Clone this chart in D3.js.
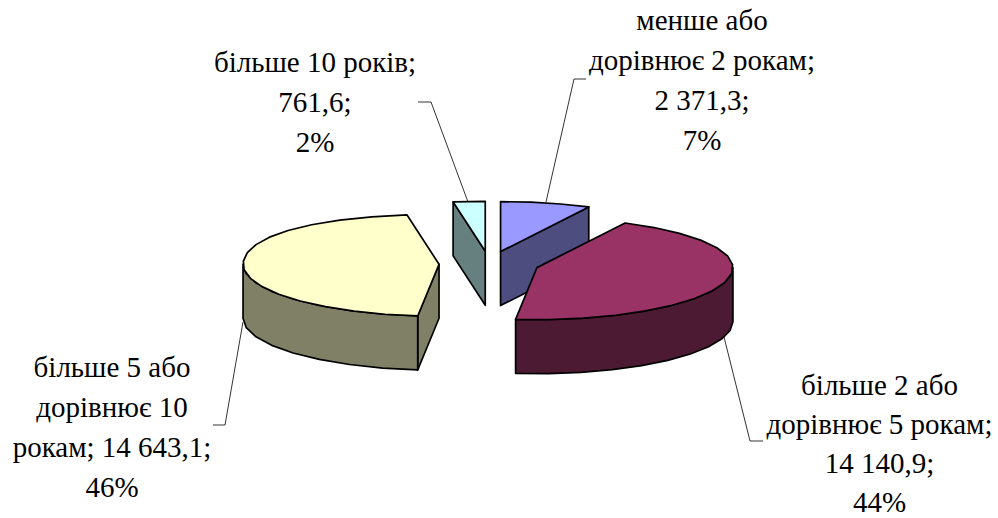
<!DOCTYPE html>
<html><head><meta charset="utf-8">
<script src="https://cdn.jsdelivr.net/npm/d3@7"></script>
<style>html,body{margin:0;padding:0;background:#fff}svg{display:block}</style>
</head><body><svg id="c" width="998" height="518"></svg>
<script>
const categories = ["менше або дорівнює 2 рокам","більше 2 або дорівнює 5 рокам","більше 5 або дорівнює 10 рокам","більше 10 років"];
const values = [2371.3,14140.9,14643.1,761.6];
const topColors = ["#9999FF","#993366","#FFFFCC","#CCFFFF"];
const sideColors = ["#4D4D80","#4D1A33","#808066","#668080"];
const lineWordCounts = [[2,3,2,1],[3,3,2,1],[3,2,3,1],[3,1,1]];

const W=998,H=518,cx=489,cy=264,rx=196,ryBack=50,ryFront=52,depth=54,explode=0.25;
const labelPos=[{x:702,y:30,gap:40},{x:879.5,y:395,gap:38.9},{x:112,y:377,gap:40},{x:315,y:72,gap:40}];
const leaders=[[[546,202],[574,79],[586,79]],[[724,337],[750,441],[763,441]],[[243,322],[225,425],[213,425]],[[468,202],[431,102],[418,102]]];

const svg=d3.select("#c");
const pie=d3.pie().sort(null).value(d=>d)(values);
const total=d3.sum(values);
const fmt=d3.formatLocale({decimal:",",thousands:" ",grouping:[3],currency:["",""]}).format(",.1f");
const offset=a=>[explode*rx*Math.sin(a),-explode*ryBack*Math.cos(a)];
const proj=a=>{
  const s=Math.sin(a),c=Math.cos(a);
  const widen=(s<0&&c>0)?1+0.1*c*c:1;
  return [rx*s*widen,-(c>0?ryBack:ryFront)*c];
};
const line=d3.line();
const order=[0,3,2,1];
const step=Math.PI/18;
function arcPts(a0,a1,o,dy=0){
  const n=Math.max(1,Math.round((a1-a0)/step));
  return d3.range(n+1).map(i=>{const p=proj(a0+(a1-a0)*i/n);return [o[0]+p[0],o[1]+p[1]+dy];});
}
order.forEach(i=>{
  const d=pie[i],a0=d.startAngle,a1=d.endAngle,mid=(a0+a1)/2;
  const e=offset(mid),o=[cx+e[0]*1.02,cy+e[1]*1.02];
  const g=svg.append("g");
  const draw=(pts,fill)=>g.append("path").attr("d",line(pts)+"Z").attr("fill",fill)
    .attr("stroke","#000").attr("stroke-width",1.7).attr("stroke-linejoin","round");
  const wall=a=>{const p=proj(a),r=[o[0]+p[0],o[1]+p[1]];
    draw([o,r,[r[0],r[1]+depth],[o[0],o[1]+depth]],sideColors[i]);};
  if(Math.sin(a1)>1e-6) wall(a1);
  if(Math.sin(a0)<-1e-6) wall(a0);
  const f0=Math.max(a0,Math.PI/2),f1=Math.min(a1,3*Math.PI/2);
  if(f1>f0){
    const t=arcPts(f0,f1,o),b=arcPts(f0,f1,o,depth).reverse();
    draw(t.concat(b),sideColors[i]);
  }
  draw([o].concat(arcPts(a0,a1,o)),topColors[i]);
});
leaders.forEach(l=>svg.append("path").attr("d",line(l)).attr("fill","none").attr("stroke","#000").attr("stroke-width",0.8));
values.forEach((v,i)=>{
  const words=`${categories[i]}; ${fmt(v)}; ${Math.round(v/total*100)}%`.split(" ");
  let k=0;
  lineWordCounts[i].forEach((c,j)=>{
    svg.append("text").attr("x",labelPos[i].x).attr("y",labelPos[i].y+j*labelPos[i].gap)
      .attr("text-anchor","middle")
      .attr("font-family","'Liberation Serif',serif").attr("font-size",29).attr("fill","#000")
      .text(words.slice(k,k+c).join(" "));
    k+=c;
  });
});
</script></body></html>
